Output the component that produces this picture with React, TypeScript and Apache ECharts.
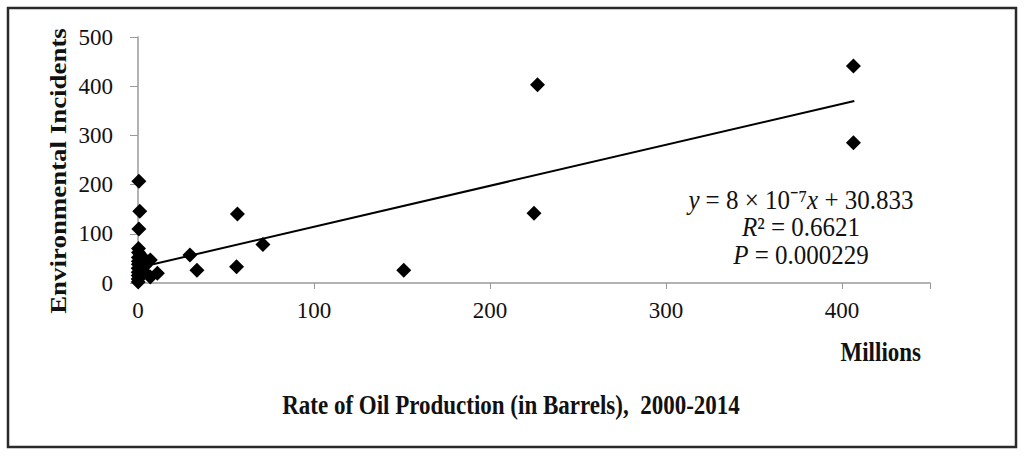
import React, { useEffect, useRef } from "react";
import * as echarts from "echarts";

const productionMillions: number[] = [406.5, 406.5, 227, 225, 151, 71, 56.5, 56, 33.5, 29.5, 11, 7, 7, 4, 3, 2, 0.5, 1, 0.5, 0.3, 0.3, 0.2, 0.2, 0.2, 0.1, 0.1, 0.1, 0.1, 0.1];
const incidents: number[] = [441, 285, 403, 142, 26, 78, 140, 33, 26, 57, 20, 47, 12, 35, 25, 55, 207, 146, 110, 70, 62, 52, 44, 38, 30, 22, 15, 8, 2];
const trendX: number[] = [0, 407];
const trendY: number[] = [31, 370];
const xTicks: number[] = [0, 100, 200, 300, 400];
const yTicks: number[] = [0, 100, 200, 300, 400, 500];

const SERIF = "Liberation Serif";
const STRETCH = 1.17;

export default function App() {
  const ref = useRef<HTMLDivElement>(null);
  useEffect(() => {
    if (!ref.current) return;
    const chart = echarts.init(ref.current, undefined, { renderer: "svg" });
    const points = productionMillions.map((x, i) => [x, incidents[i]]);
    const trend = trendX.map((x, i) => [x, trendY[i]]);
    const eqRich = { i: { fontStyle: "italic", fontFamily: SERIF, fontSize: 25, fill: "#111" } };
    chart.setOption({
      animation: false,
      backgroundColor: "#ffffff",
      textStyle: { fontFamily: "serif" },
      grid: { left: 138, right: 94, top: 37, bottom: 174, containLabel: false },
      xAxis: {
        type: "value",
        min: 0,
        max: 450,
        interval: 100,
        axisLine: { show: true, onZero: false, lineStyle: { color: "#9a9a9a", width: 1.5 } },
        axisTick: { show: true, length: 6, lineStyle: { color: "#9a9a9a" } },
        splitLine: { show: false },
        axisLabel: {
          margin: 16,
          fontFamily: "serif",
          fontSize: 23,
          color: "#111",
          formatter: (v: number) => (xTicks.includes(v) ? String(v) : ""),
        },
      },
      yAxis: {
        type: "value",
        min: 0,
        max: 500,
        interval: 100,
        axisLine: { show: true, lineStyle: { color: "#9a9a9a", width: 1.5 } },
        axisTick: { show: true, length: 8, lineStyle: { color: "#9a9a9a" } },
        splitLine: { show: false },
        axisLabel: {
          margin: 25,
          fontFamily: "Times New Roman",
          fontSize: 23,
          color: "#111",
          formatter: (v: number) => (yTicks.includes(v) ? String(v) : ""),
        },
      },
      series: [
        {
          type: "line",
          data: trend,
          symbol: "none",
          lineStyle: { color: "#000", width: 2 },
          z: 3,
        },
        {
          type: "scatter",
          data: points,
          symbol: "diamond",
          symbolSize: 15,
          itemStyle: { color: "#000", opacity: 1 },
          z: 4,
        },
      ],
      graphic: [
        {
          type: "rect",
          shape: { x: 8, y: 8, width: 1008, height: 439 },
          style: { fill: "none", stroke: "#2a2a2a", lineWidth: 2.5 },
          z: 10,
        },
        {
          type: "text",
          x: 58,
          y: 171,
          rotation: Math.PI / 2,
          scaleX: STRETCH,
          style: {
            text: "Environmental Incidents",
            fontFamily: SERIF,
            fontWeight: "bold",
            fontSize: 23,
            fill: "#111",
            align: "center",
            verticalAlign: "middle",
          },
        },
        {
          type: "text",
          x: 921,
          y: 352,
          scaleY: STRETCH,
          style: {
            text: "Millions",
            fontFamily: SERIF,
            fontWeight: "bold",
            fontSize: 23,
            fill: "#111",
            align: "right",
            verticalAlign: "middle",
          },
        },
        {
          type: "text",
          x: 511,
          y: 405,
          scaleY: STRETCH,
          style: {
            text: "Rate of Oil Production (in Barrels),  2000-2014",
            fontFamily: SERIF,
            fontWeight: "bold",
            fontSize: 23,
            fill: "#111",
            align: "center",
            verticalAlign: "middle",
          },
        },
        {
          type: "text",
          x: 801,
          y: 200,
          scaleY: 1.1,
          style: {
            text: "{i|y} = 8 × 10⁻⁷{i|x} + 30.833",
            fontFamily: SERIF,
            fontSize: 25,
            fill: "#111",
            align: "center",
            verticalAlign: "middle",
            rich: eqRich,
          },
        },
        {
          type: "text",
          x: 801,
          y: 227,
          scaleY: 1.1,
          style: {
            text: "{i|R}² = 0.6621",
            fontFamily: SERIF,
            fontSize: 25,
            fill: "#111",
            align: "center",
            verticalAlign: "middle",
            rich: eqRich,
          },
        },
        {
          type: "text",
          x: 801,
          y: 255,
          scaleY: 1.1,
          style: {
            text: "{i|P} = 0.000229",
            fontFamily: SERIF,
            fontSize: 25,
            fill: "#111",
            align: "center",
            verticalAlign: "middle",
            rich: eqRich,
          },
        },
      ],
    });
    return () => chart.dispose();
  }, []);
  return (
    <div
      ref={ref}
      style={{ position: "fixed", left: 0, top: 0, width: 1024, height: 457 }}
    />
  );
}
